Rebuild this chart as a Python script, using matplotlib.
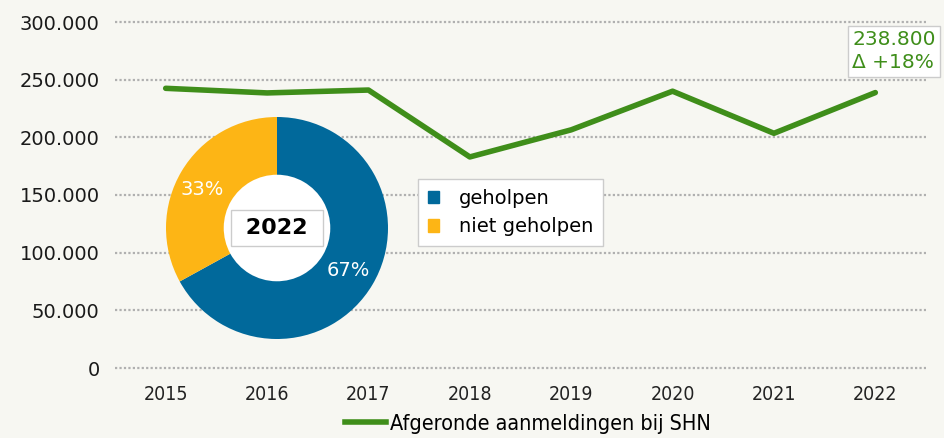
import matplotlib.pyplot as plt
from matplotlib.lines import Line2D
from matplotlib.patches import Patch

# Data
years = ['2015', '2016', '2017', '2018', '2019', '2020', '2021', '2022']
aanmeldingen = [242500, 238500, 241000, 183000, 206500, 240000, 203500, 238800]
donut_labels = ['geholpen', 'niet geholpen']
donut_values = [67, 33]
yticks = [0, 50000, 100000, 150000, 200000, 250000, 300000]
ytick_labels = ['0', '50.000', '100.000', '150.000', '200.000', '250.000', '300.000']

bg = '#f7f7f2'
green = '#3f8e1a'
blue = '#01699b'
yellow = '#fdb515'

fig = plt.figure(figsize=(9.44, 4.38), dpi=100, facecolor=bg)
W, H = 944, 438
ax = fig.add_axes([115 / W, 70 / H, 811 / W, 346 / H], facecolor=bg)
ax.patch.set_visible(False)

x = range(len(years))
ax.plot(x, aanmeldingen, color=green, lw=4, solid_capstyle='round', zorder=3, clip_on=False)
ax.set_xlim(-0.5, len(years) - 0.5)
ax.set_ylim(0, 300000)
ax.set_yticks(yticks)
ax.set_yticklabels(ytick_labels, fontsize=14, color='#1a1a1a')
ax.set_xticks(list(x))
ax.set_xticklabels(years, fontsize=14, color='#222222', fontstretch='condensed')
ax.tick_params(length=0, pad=12)
ax.tick_params(axis='y', pad=11)
for s in ax.spines.values():
    s.set_visible(False)
for v in yticks:
    ax.axhline(v, color='#b0b0b0', ls=(0, (1, 1)), lw=1.6, zorder=1, clip_on=False)

# value label for last year
fig.text(852 / W, 408 / H, '238.800\nΔ +18%', ha='left', va='top', fontsize=14.5,
         color=green, linespacing=1.3,
         bbox=dict(boxstyle='square,pad=0.2', fc='white', ec='#cccccc', lw=1))

# legend below
fig.legend(handles=[Line2D([], [], color=green, lw=4)], labels=['Afgeronde aanmeldingen bij SHN'],
           loc='center', bbox_to_anchor=(528 / W, 14 / H), frameon=False,
           prop={'size': 15.5, 'stretch': 'condensed'}, handlelength=1.9, handletextpad=0.2)

# donut
cx, cy, r = 277, 438 - 228, 111
dax = fig.add_axes([(cx - r) / W, (cy - r) / H, 2 * r / W, 2 * r / H])
dax.pie(donut_values, colors=[blue, yellow], startangle=90, counterclock=False,
        wedgeprops=dict(width=0.52, edgecolor='none'), radius=1)
dax.add_patch(plt.Circle((0, 0), 0.48, color='white', zorder=0))
dax.set_xlim(-1, 1)
dax.set_ylim(-1, 1)
dax.set_aspect('equal')
dax.text(0.64, -0.38, '67%', color='white', fontsize=14, ha='center', va='center')
dax.text(-0.67, 0.35, '33%', color='white', fontsize=14, ha='center', va='center')
dax.text(0, 0, ' 2022 ', fontsize=16, fontweight='bold', ha='center', va='center',
         bbox=dict(boxstyle='square,pad=0.35', fc='white', ec='#cccccc', lw=1))

fig.legend(handles=[Patch(color=blue), Patch(color=yellow)], labels=donut_labels,
           loc='upper left', bbox_to_anchor=(418 / W, (438 - 179) / H), fontsize=14,
           fancybox=False, edgecolor='#cccccc', framealpha=1, handlelength=0.6,
           handleheight=0.6, handletextpad=1.0, borderpad=0.5, labelspacing=0.5,
           borderaxespad=0)

fig.savefig('out.png', dpi=100, facecolor=bg)
